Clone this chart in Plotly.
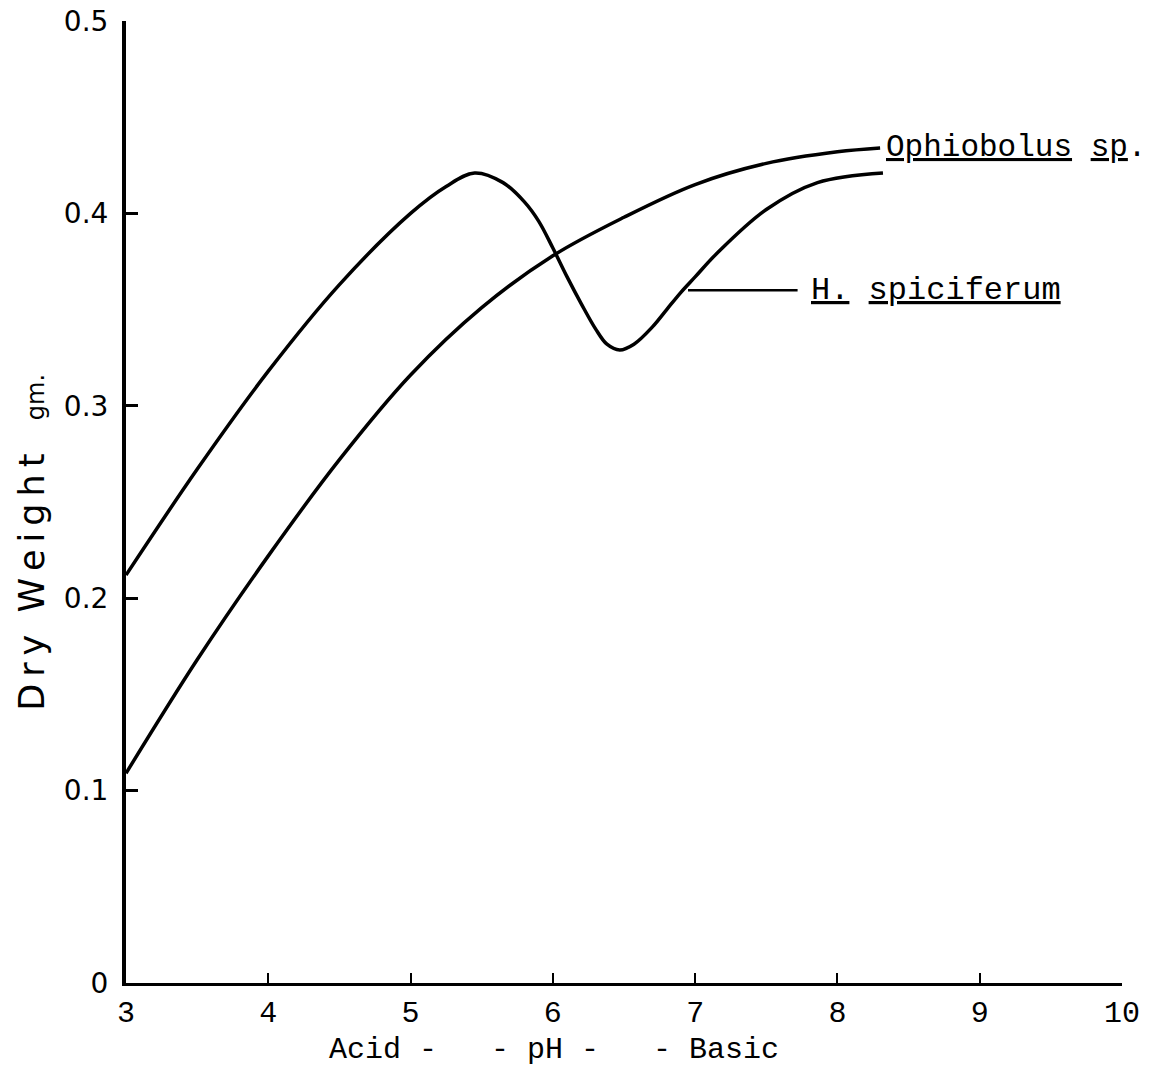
import plotly.graph_objects as go

# pH values and dry weights (g)
h_ph = [3.0, 3.5, 4.0, 4.5, 5.0, 5.25, 5.45, 5.65, 5.8, 5.9, 6.0, 6.1, 6.2, 6.3, 6.38, 6.47, 6.57, 6.7, 6.8, 6.9, 7.0, 7.15, 7.5, 7.86, 8.32]
h_wt = [0.212, 0.267, 0.318, 0.363, 0.400, 0.414, 0.421, 0.416, 0.406, 0.396, 0.382, 0.367, 0.353, 0.340, 0.332, 0.329, 0.332, 0.341, 0.350, 0.359, 0.367, 0.379, 0.402, 0.416, 0.421]

o_ph = [3.0, 3.5, 4.0, 4.5, 5.0, 5.5, 6.0, 6.5, 7.0, 7.5, 8.0, 8.3]
o_wt = [0.109, 0.168, 0.222, 0.272, 0.316, 0.351, 0.378, 0.398, 0.415, 0.426, 0.432, 0.434]

x_ticks = [3, 4, 5, 6, 7, 8, 9, 10]
y_ticks = [0, 0.1, 0.2, 0.3, 0.4, 0.5]
y_tick_text = ["0", "0.1", "0.2", "0.3", "0.4", "0.5"]

mono = "Liberation Mono"
hand = "DejaVu Sans"

fig = go.Figure()
fig.add_trace(go.Scatter(x=h_ph, y=h_wt, mode="lines", name="H. spiciferum",
                         line=dict(color="black", width=3.5, shape="spline", smoothing=1.0)))
fig.add_trace(go.Scatter(x=o_ph, y=o_wt, mode="lines", name="Ophiobolus sp.",
                         line=dict(color="black", width=3.5, shape="spline", smoothing=1.0)))

# pointer line for H. spiciferum label
fig.add_shape(type="line", x0=6.95, x1=7.72, y0=0.360, y1=0.360,
              line=dict(color="black", width=2.5))

nb = "\u00a0"
th = "\u2009"
fig.add_annotation(x=8.33, y=0.4345, xanchor="left", yanchor="middle", showarrow=False,
                   text="<u>Ophiobolus</u>" + nb + "<u>sp</u>.",
                   font=dict(family=mono, size=31, color="black"))
fig.add_annotation(x=7.80, y=0.360, xanchor="left", yanchor="middle", showarrow=False,
                   text="<u>H.</u>" + nb + "<u>spiciferum</u>",
                   font=dict(family=mono, size=32, color="black"))

# x-axis title
fig.add_annotation(x=0.43, y=-0.07, xref="paper", yref="paper", xanchor="center", yanchor="middle",
                   showarrow=False,
                   text="Acid" + nb + "-" + nb * 3 + "-" + nb + "pH" + nb + "-" + nb * 3 + "-" + nb + "Basic",
                   font=dict(family=mono, size=30, color="black"))

# y-axis title
dry = th.join("Dry") + nb + nb + th.join("Weight")
fig.add_annotation(x=-0.094, y=0.458, xref="paper", yref="paper", xanchor="center", yanchor="middle",
                   showarrow=False, textangle=-90,
                   text=dry + nb + nb + nb + "<span style='font-size:24px'>gm.</span>",
                   font=dict(family=hand, size=35, color="black"))

fig.update_layout(
    width=1163, height=1069,
    margin=dict(l=126, r=41, t=21, b=86),
    paper_bgcolor="white", plot_bgcolor="white",
    showlegend=False,
)
fig.update_xaxes(range=[3, 10], tickvals=x_ticks, ticktext=[str(v) for v in x_ticks],
                 automargin=False, ticklabeloverflow="allow",
                 showgrid=False, zeroline=False, showline=True, linecolor="black", linewidth=3,
                 ticks="inside", ticklen=10, tickwidth=2, tickcolor="black",
                 ticklabelstandoff=0,
                 tickfont=dict(family=mono, size=30, color="black"))
fig.update_yaxes(range=[0, 0.5], tickvals=y_ticks, ticktext=y_tick_text,
                 automargin=False, ticklabeloverflow="allow",
                 showgrid=False, zeroline=False, showline=True, linecolor="black", linewidth=4,
                 ticks="inside", ticklen=12, tickwidth=2.5, tickcolor="black",
                 ticklabelstandoff=8,
                 tickfont=dict(family=hand, size=28, color="black"))

# remove the page's default body margin so the figure sits at the window's corner
fig.write_html("out.html", config={"displayModeBar": False},
               post_script="document.body.style.margin='0';")
